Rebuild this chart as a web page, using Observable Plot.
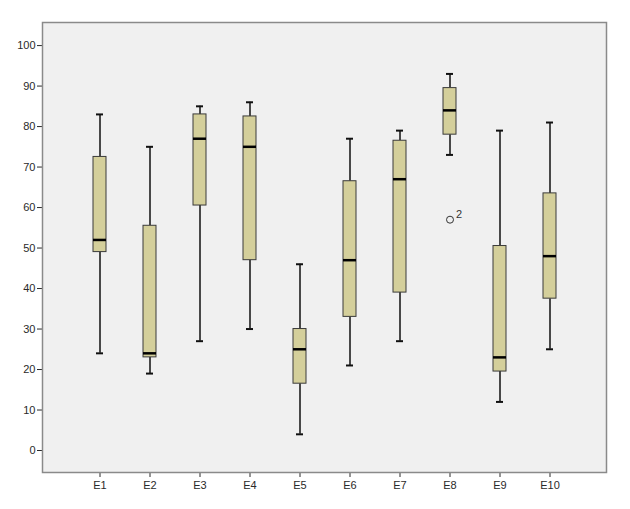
<!DOCTYPE html>
<html>
<head>
<meta charset="utf-8">
<script src="https://cdn.jsdelivr.net/npm/d3@7"></script>
<script src="https://cdn.jsdelivr.net/npm/@observablehq/plot@0.6"></script>
<style>
  html, body { margin: 0; padding: 0; background: #ffffff; }
  #chart { width: 630px; height: 509px; }
</style>
</head>
<body>
<div id="chart"></div>
<script>
// Data
const categories = ["E1", "E2", "E3", "E4", "E5", "E6", "E7", "E8", "E9", "E10"];
const whiskerLow  = [24, 19, 27, 30, 4, 21, 27, 73, 12, 25];
const q1          = [49, 23, 60.5, 47, 16.5, 33, 39, 78, 19.5, 37.5];
const median      = [52, 24, 77, 75, 25, 47, 67, 84, 23, 48];
const q3          = [72.5, 55.5, 83, 82.5, 30, 66.5, 76.5, 89.5, 50.5, 63.5];
const whiskerHigh = [83, 75, 85, 86, 46, 77, 79, 93, 79, 81];
const outlierCategory = ["E8"];
const outlierValue = [57];
const outlierLabel = ["2"];
const yTicks = [0, 10, 20, 30, 40, 50, 60, 70, 80, 90, 100];

const boxes = categories.map((c, i) => ({
  cat: c, lo: whiskerLow[i], q1: q1[i], med: median[i], q3: q3[i], hi: whiskerHigh[i]
}));
const outliers = outlierCategory.map((c, i) => ({cat: c, v: outlierValue[i], label: outlierLabel[i]}));

const chart = Plot.plot({
  width: 630,
  height: 509,
  marginLeft: 42,
  marginRight: 24,
  marginTop: 22,
  marginBottom: 37,
  style: {background: "#ffffff", fontFamily: "'Liberation Sans', Arial, sans-serif", fontSize: "11px", color: "#2a2a2a"},
  x: {domain: categories, paddingInner: 0.744, paddingOuter: 0.932, label: null, tickSize: 5, tickPadding: 4, line: true},
  y: {domain: [-5.43, 105.7], ticks: yTicks, label: null, tickSize: 5, tickPadding: 2, tickFormat: d3.format("d"), line: true},
  marks: [
    Plot.frame({fill: "#f0f0f0", stroke: "#8a8a8a", strokeWidth: 1.5}),
    // whiskers
    Plot.ruleX(boxes, {x: "cat", y1: "lo", y2: "q1", stroke: "#111", strokeWidth: 1.5}),
    Plot.ruleX(boxes, {x: "cat", y1: "q3", y2: "hi", stroke: "#111", strokeWidth: 1.5}),
    // whisker caps
    Plot.tickY(boxes, {x: "cat", y: "lo", stroke: "#111", strokeWidth: 2, insetLeft: 3, insetRight: 3}),
    Plot.tickY(boxes, {x: "cat", y: "hi", stroke: "#111", strokeWidth: 2, insetLeft: 3, insetRight: 3}),
    // boxes
    Plot.barY(boxes, {x: "cat", y1: "q1", y2: "q3", fill: "#d4cf9b", stroke: "#3a3a3a", strokeWidth: 1}),
    // medians
    Plot.tickY(boxes, {x: "cat", y: "med", stroke: "#000", strokeWidth: 2.5}),
    // outliers
    Plot.dot(outliers, {x: "cat", y: "v", r: 3.5, stroke: "#333", fill: "none", strokeWidth: 1}),
    Plot.text(outliers, {x: "cat", y: "v", text: "label", dx: 9, dy: -5, fontSize: 11, fill: "#333"})
  ]
});
document.getElementById("chart").appendChild(chart);
</script>
</body>
</html>
